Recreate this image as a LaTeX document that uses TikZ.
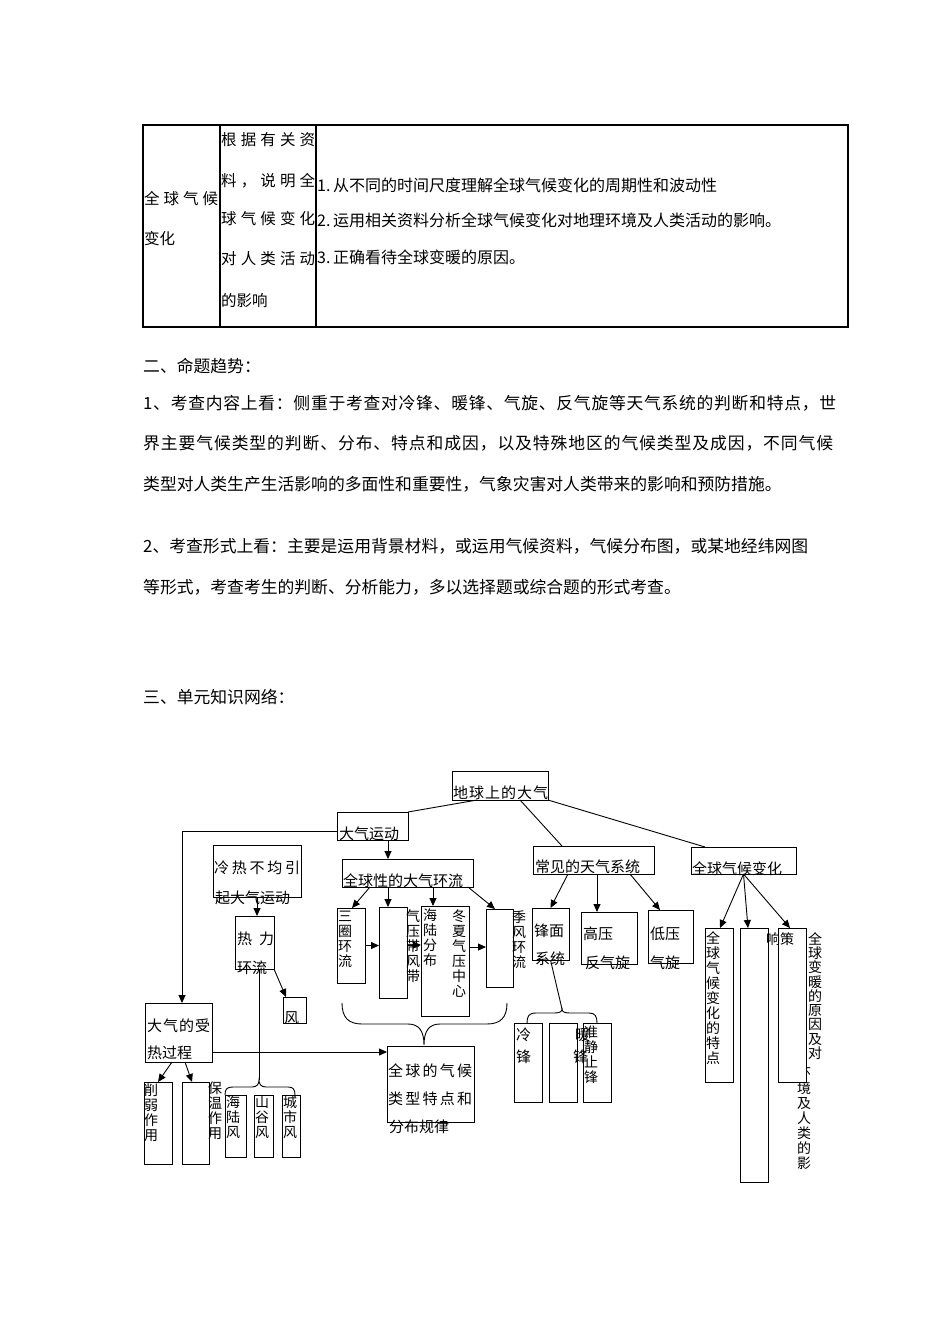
\documentclass[tikz,border=0pt]{standalone}
\usepackage{fontspec}
\newfontfamily\cjk{Noto Sans CJK SC}
\usetikzlibrary{arrows.meta}
\makeatletter
\def\spreadit#1{\spr@a#1\relax}
\def\spr@a#1{#1\spr@b}
\def\spr@b#1{\ifx#1\relax\else\hfil#1\expandafter\spr@b\fi}
\makeatother
\newcommand\jline[2]{\makebox[#1][s]{\spreadit{#2}}}
\newcommand\mkbox[6][]{\node[bx,#1,minimum width={(#5-#3)*1pt},minimum height={(#6-#4)*1pt}] (#2) at (#3,#4) {};}
\begin{document}
\begin{tikzpicture}[x=1pt,y=-1pt,
  bx/.style={draw,line width=0.9pt,inner sep=0pt,outer sep=0pt,anchor=north west},
  lbl/.style={inner sep=0pt,anchor=west,font=\cjk\fontsize{15}{18}\selectfont},
  vlbl/.style={inner sep=0pt,anchor=north,align=center,font=\cjk\fontsize{14}{15}\selectfont},
  vlbls/.style={inner sep=0pt,anchor=north,align=center,font=\cjk\fontsize{14}{14.3}\selectfont},
  body/.style={inner sep=0pt,anchor=west,font=\cjk\fontsize{16.8}{20}\selectfont},
  tb/.style={inner sep=0pt,anchor=west,font=\cjk\fontsize{15.5}{18}\selectfont},
  tc/.style={inner sep=0pt,anchor=west,font=\cjk\fontsize{16}{18}\selectfont},
  ln/.style={line width=0.9pt},
  arr/.style={line width=0.9pt,-{Triangle[length=8pt,width=7pt]}}]
\useasboundingbox (0,0) rectangle (950,1344);
\fill[white] (0,0) rectangle (950,1344);

% table
\draw[line width=1.3pt] (143,125) rectangle (848,327);
\draw[line width=1.3pt] (220,125) -- (220,327);
\draw[line width=1.3pt] (316,125) -- (316,327);
\node[tb] (c1a) at (144,199) {\jline{74pt}{全球气候}};
\node[tb] (c1b) at (144,239) {变化};
\node[tb] (c2a) at (221,140) {\jline{94pt}{根据有关资}};
\node[tb] (c2b) at (221,181) {\jline{94pt}{料，说明全}};
\node[tb] (c2c) at (221,219) {\jline{94pt}{球气候变化}};
\node[tb] (c2d) at (221,259) {\jline{94pt}{对人类活动}};
\node[tb] (c2e) at (221,301) {的影响};
\node[tc] (c3a) at (317,185) {\makebox[16pt][l]{1.}从不同的时间尺度理解全球气候变化的周期性和波动性};
\node[tc] (c3b) at (317,220) {\makebox[16pt][l]{2.}运用相关资料分析全球气候变化对地理环境及人类活动的影响。};
\node[tc] (c3c) at (317,257) {\makebox[16pt][l]{3.}正确看待全球变暖的原因。};

% body text
\node[body] (t1) at (143,366) {二、命题趋势：};
\node[body] (p1) at (143,403) {\jline{693pt}{1、考查内容上看：侧重于考查对冷锋、暖锋、气旋、反气旋等天气系统的判断和特点，世}};
\node[body] (p2) at (143,443) {\jline{690pt}{界主要气候类型的判断、分布、特点和成因，以及特殊地区的气候类型及成因，不同气候}};
\node[body] (p3) at (143,484) {类型对人类生产生活影响的多面性和重要性，气象灾害对人类带来的影响和预防措施。};
\node[body] (p4) at (143,546) {\jline{665pt}{2、考查形式上看：主要是运用背景材料，或运用气候资料，气候分布图，或某地经纬网图}};
\node[body] (p5) at (143,587) {等形式，考查考生的判断、分析能力，多以选择题或综合题的形式考查。};
\node[body] (t3) at (143,697) {三、单元知识网络：};

% boxes
\mkbox{earth}{452}{771}{548}{800}
\mkbox{motion}{337}{812}{408}{840}
\mkbox{weather}{533}{846}{654}{874}
\mkbox{change}{691}{847}{796}{874}
\mkbox{global}{342}{859}{473}{887}
\mkbox{uneven}{213}{845}{301}{897}
\mkbox{thermal}{235}{916}{274}{969}
\mkbox{wind}{283}{997}{306}{1023}
\mkbox{heat}{145}{1003}{212}{1062}
\mkbox{seaL}{225}{1095}{246}{1157}
\mkbox{valley}{254}{1095}{273}{1157}
\mkbox{city}{282}{1095}{300}{1157}
\mkbox{weaken}{144}{1082}{172}{1164}
\mkbox{insul}{182}{1082}{209}{1164}
\mkbox{climate}{387}{1046}{474}{1122}
\mkbox{three}{337}{908}{365}{983}
\mkbox{pbelt}{379}{907}{407}{998}
\mkbox{landsea}{421}{906}{469}{1016}
\mkbox{monsoon}{486}{909}{513}{987}
\mkbox{front}{532}{908}{569}{960}
\mkbox{high}{581}{912}{637}{964}
\mkbox{low}{648}{910}{693}{963}
\mkbox{cold}{514}{1023}{542}{1102}
\mkbox{warm}{549}{1023}{577}{1102}
\mkbox{stat}{583}{1023}{611}{1102}
\mkbox{featA}{705}{928}{733}{1082}
\mkbox{boxB}{740}{928}{768}{1182}

% horizontal labels
\node[lbl] (l1) at (453,793) {\jline{95pt}{地球上的大气}};
\node[lbl] (l2) at (339,834) {大气运动};
\node[lbl] (l3) at (535,867) {常见的天气系统};
\node[lbl] (l4) at (692,869) {全球气候变化};
\node[lbl] (l5) at (343,881) {全球性的大气环流};
\node[lbl] (l6) at (214,868) {\jline{86pt}{冷热不均引}};
\node[lbl] (l7) at (215,898) {起大气运动};
\node[lbl] (l8) at (237,939) {\jline{37pt}{热力}};
\node[lbl] (l9) at (237,968) {环流};
\node[lbl] (l10) at (284,1018) {风};
\node[lbl] (l11) at (147,1026) {\jline{63pt}{大气的受}};
\node[lbl] (l12) at (147,1053) {热过程};
\node[lbl] (l13) at (388,1071) {\jline{84pt}{全球的气候}};
\node[lbl] (l14) at (388,1099) {\jline{84pt}{类型特点和}};
\node[lbl] (l15) at (389,1127) {分布规律};
\node[lbl] (l16) at (534,931) {锋面};
\node[lbl] (l17) at (535,959) {系统};
\node[lbl] (l18) at (583,934) {高压};
\node[lbl] (l19) at (585,963) {反气旋};
\node[lbl] (l20) at (650,934) {低压};
\node[lbl] (l21) at (650,963) {气旋};
\node[lbl] (l22) at (516,1035) {冷};
\node[lbl] (l23) at (516,1057) {锋};
\node[lbl] (l24) at (575,1035) {暖};
\node[lbl] (l25) at (573,1057) {锋};

% vertical labels
\node[vlbl] (v1) at (345,911) {三\\圈\\环\\流};
\node[vlbl] (v2) at (413,909) {气\\压\\带\\风\\带};
\node[vlbl] (v3) at (430,909) {海\\陆\\分\\布};
\node[vlbl] (v4) at (459,909) {冬\\夏\\气\\压\\中\\心};
\node[vlbl] (v5) at (519,911) {季\\风\\环\\流};
\node[vlbl] (v6) at (591,1026) {准\\静\\止\\锋};
\node[vlbl] (v7) at (713,931) {全\\球\\气\\候\\变\\化\\的\\特\\点};
\node[vlbls] (v8) at (815,932) {全\\球\\变\\暖\\的\\原\\因\\及\\对};
\node[vlbl] (v9) at (804,1067) {环\\境\\及\\人\\类\\的\\影};
\node[vlbl] (v10) at (151,1084) {削\\弱\\作\\用};
\node[vlbl] (v11) at (215,1082) {保\\温\\作\\用};
\node[vlbl] (v12) at (233,1096) {海\\陆\\风};
\node[vlbl] (v13) at (262,1096) {山\\谷\\风};
\node[vlbl] (v14) at (290,1096) {城\\市\\风};

\mkbox[fill=white]{boxC}{778}{928}{806}{1082}
\node[lbl,font=\cjk\fontsize{14}{16}\selectfont] (l26) at (766,939) {响策};

% connectors
\draw[ln] ([xshift=25pt]earth.south west) -- (motion.north east);
\draw[ln] ([xshift=68pt]earth.south west) -- ([xshift=29pt]weather.north west);
\draw[ln] (earth.south east) -- ([xshift=14pt]change.north west);
\draw[arr] ([yshift=-5pt]motion.west) -| ([xshift=3.5pt]heat.north);
\draw[arr] ([xshift=15.5pt]motion.south) -- ([xshift=15.5pt]motion.south |- global.north);
\draw[arr] (uneven.south) -- (uneven.south |- thermal.north);
\draw[arr] (thermal.south east) -- ([xshift=3pt]wind.north west);
\coordinate (b1) at (259,1080);
\draw[ln] (thermal.south -| b1) -- (b1);
\draw[ln] (225,1095) .. controls (225,1089) and (227,1087) .. (233,1087) -- (252,1087) .. controls (257,1087) and (259,1084) .. (b1) .. controls (259,1084) and (261,1087) .. (266,1087) -- (288,1087) .. controls (293,1087) and (295,1089) .. (295,1095);
\draw[arr] ([xshift=-6.5pt]heat.south) -- (weaken.north);
\draw[arr] ([xshift=6.5pt]heat.south) -- ([xshift=-3.5pt]insul.north);
\draw[arr] ([yshift=-19.5pt]heat.east) -- ([yshift=-19.5pt]heat.east -| climate.west);
\draw[arr] ([xshift=28pt]global.south west) -- ([xshift=1pt]three.north);
\draw[arr] ([xshift=46pt]global.south west) -- ([xshift=46pt]global.south west |- pbelt.north);
\draw[arr] ([xshift=91pt]global.south west) -- ([xshift=91pt]global.south west |- landsea.north);
\draw[arr] ([xshift=-5pt]global.south east) -- ([xshift=-4.5pt]monsoon.north);
\draw[arr] (three.east) -- (three.east -| pbelt.west);
\draw[arr] ([yshift=7.5pt]pbelt.east) -- ([yshift=7.5pt]pbelt.east -| landsea.west);
\draw[arr] ([yshift=14pt]landsea.east) -- ([yshift=14pt]landsea.east -| monsoon.west);
\draw[arr] ([xshift=35pt]weather.south west) -- (front.north);
\draw[arr] ([xshift=64pt]weather.south west) -- ([xshift=64pt]weather.south west |- high.north);
\draw[arr] ([xshift=97pt]weather.south west) -- ([xshift=-10.5pt]low.north);
\coordinate (b2) at (562,1009);
\draw[ln] (front.south) -- (b2);
\draw[ln] (527,1023) .. controls (527,1016) and (529,1013) .. (536,1013) -- (554,1013) .. controls (559,1013) and (562,1012) .. (b2) .. controls (562,1012) and (565,1013) .. (570,1013) -- (589,1013) .. controls (595,1013) and (597,1016) .. (597,1023);
\draw[arr] (change.south) -- ([xshift=1pt]featA.north);
\draw[arr] (change.south) -- ([xshift=-6pt]boxB.north);
\draw[arr] (change.south) -- ([xshift=-2pt]boxC.north);
\coordinate (b3) at (424,1045);
\draw[ln] (342,1003) .. controls (342,1017) and (348,1024) .. (362,1024) -- (408,1024) .. controls (419,1024) and (424,1031) .. (b3) .. controls (424,1031) and (429,1024) .. (440,1024) -- (487,1024) .. controls (501,1024) and (507,1017) .. (507,1003);
\end{tikzpicture}
\end{document}
